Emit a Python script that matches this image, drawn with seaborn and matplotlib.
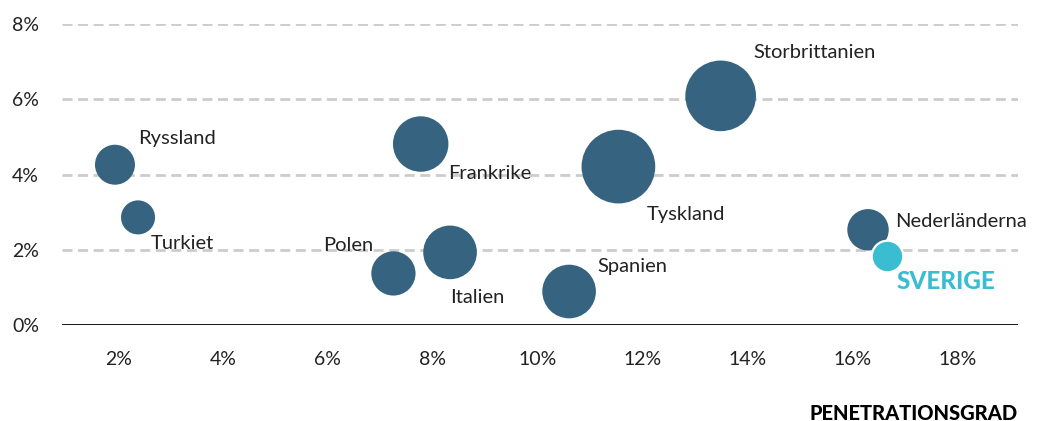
import matplotlib
matplotlib.use("Agg")
import matplotlib.pyplot as plt
import seaborn as sns
import pandas as pd
from matplotlib.ticker import FuncFormatter

# ---- data ----
countries = ["Ryssland", "Turkiet", "Polen", "Frankrike", "Italien", "Spanien",
             "Tyskland", "Storbrittanien", "Nederländerna", "SVERIGE"]
penetration = [1.94, 2.38, 7.25, 7.77, 8.33, 10.60, 11.54, 13.49, 16.30, 16.66]   # x, %
growth = [4.26, 2.86, 1.37, 4.81, 1.93, 0.89, 4.21, 6.09, 2.53, 1.84]              # y, %
market_size = [400, 290, 490, 770, 720, 720, 1360, 1250, 430, 250]                 # bubble size
group = ["Övriga"] * 9 + ["Sverige"]
x_ticks = [2, 4, 6, 8, 10, 12, 14, 16, 18]
y_ticks = [0, 2, 4, 6, 8]
x_label = "PENETRATIONSGRAD"

df = pd.DataFrame({"land": countries, "pen": penetration, "tillv": growth,
                   "storlek": market_size, "grupp": group})

DARK = "#36637F"
CYAN = "#3BBDD1"
TEXT = "#222222"

sns.set_theme(style="white")
plt.rcParams["font.family"] = ["Lato", "DejaVu Sans"]

fig = plt.figure(figsize=(10.39, 4.21), dpi=100)
ax = fig.add_axes([62 / 1039, 1 - 325 / 421, (1018 - 62) / 1039, (325 - 24) / 421])

smax = max(market_size)
sns.scatterplot(data=df[df.grupp == "Övriga"], x="pen", y="tillv", size="storlek",
                sizes=(0, smax * 2.07), size_norm=(0, smax), color=DARK,
                edgecolor="none", linewidth=0, alpha=1, legend=False, ax=ax, zorder=3)
sns.scatterplot(data=df[df.grupp == "Sverige"], x="pen", y="tillv", size="storlek",
                sizes=(0, smax * 2.07), size_norm=(0, smax), color=CYAN,
                edgecolor="white", linewidth=1.6, alpha=1, legend=False, ax=ax, zorder=4)

# label offsets in points (layout only)
offsets = {
    "Ryssland": (16.6, 18.7, "left"),
    "Turkiet": (9.4, -18.5, "left"),
    "Polen": (-14.6, 20.4, "right"),
    "Frankrike": (19.7, -21.4, "left"),
    "Italien": (0, -32.2, "left"),
    "Spanien": (20.2, 17.8, "left"),
    "Tyskland": (20.7, -34.8, "left"),
    "Storbrittanien": (23.3, 31, "left"),
    "Nederländerna": (19.7, 5.8, "left"),
    "SVERIGE": (6.7, -18.5, "left"),
}
for name, xv, yv in zip(countries, penetration, growth):
    dx, dy, ha = offsets[name]
    if name == "SVERIGE":
        ax.annotate(name, (xv, yv), xytext=(dx, dy), textcoords="offset points",
                    ha=ha, va="center", fontsize=17.5, fontweight="black", color=CYAN)
    else:
        ax.annotate(name, (xv, yv), xytext=(dx, dy), textcoords="offset points",
                    ha=ha, va="center", fontsize=14.5, color=TEXT)

ax.set_xlim(0.93, 19.16)
ax.set_ylim(0, 8)
ax.set_xticks(x_ticks)
ax.set_yticks(y_ticks)
pct = FuncFormatter(lambda v, p: f"{v:.0f}%")
ax.xaxis.set_major_formatter(pct)
ax.yaxis.set_major_formatter(pct)
ax.tick_params(axis="both", length=0, labelsize=14, labelcolor=TEXT)
ax.tick_params(axis="x", pad=18.5)
ax.tick_params(axis="y", pad=16.5)

for v in y_ticks[1:]:
    ax.axhline(v, color="#CCCCCC", linewidth=2, linestyle=(0, (3.6, 2.0)), zorder=1)
ax.axhline(0, color="black", linewidth=2, zorder=2)

for s in ax.spines.values():
    s.set_visible(False)
ax.grid(False)

ax.set_ylabel("")
ax.set_xlabel(x_label, loc="right", fontsize=14.5, fontweight="black", color="black",
              labelpad=26)

fig.savefig("out.png", dpi=100)
